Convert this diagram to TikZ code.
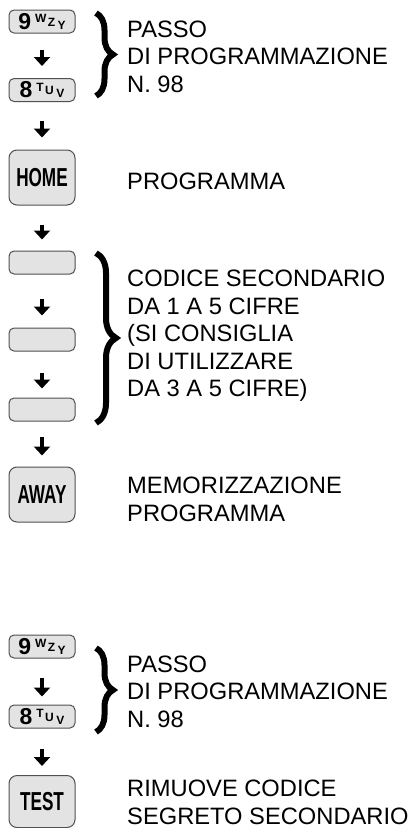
\documentclass[tikz,border=0pt]{standalone}
\usepackage{fontspec}
\setmainfont{Liberation Sans}
\usetikzlibrary{arrows.meta,decorations.pathreplacing}
\definecolor{keyfill}{HTML}{E3E3E3}
\definecolor{keyline}{HTML}{505050}
\newcommand\keylab[4]{{\bfseries\fontsize{23}{23}\selectfont #1}\hspace{4pt}{\bfseries\fontsize{12}{12}\selectfont\raisebox{6.5pt}{#2}\hspace{1.5pt}\raisebox{3pt}{#3}\hspace{2.5pt}\raisebox{0pt}{#4}}}
\newcommand\bigkeytext[1]{\scalebox{0.66}[1]{#1}}
\begin{document}
\begin{tikzpicture}[x=1pt,y=-1pt,
  smallkey/.style={draw=keyline, fill=keyfill, line width=1pt, rounded corners=5pt,
    minimum width=66pt, minimum height=23pt, inner sep=0pt},
  bigkey/.style={draw=keyline, fill=keyfill, line width=1pt, rounded corners=8pt,
    minimum width=66pt, minimum height=55pt, inner sep=0pt,
    font=\bfseries\fontsize{26}{26}\selectfont},
  downarrow/.style={line width=4.5pt, -{Triangle[width=16pt,length=9pt]}},
  bracestyle/.style={decorate, decoration={brace, amplitude=#1}, line width=6pt},
  desc/.style={anchor=north west, inner sep=0pt, align=left,
    font=\fontsize{23.7}{27.5}\selectfont}]
\useasboundingbox (0,0) rectangle (413,828);
\fill[white] (0,0) rectangle (413,828);

% keys
\node[smallkey] (k9a) at (42,21.5) {\keylab{9}{W}{Z}{Y}};
\node[smallkey] (k8a) at (42,90) {\keylab{8}{T}{U}{V}};
\node[bigkey] (home) at (42,177.5) {\bigkeytext{HOME}};
\node[smallkey] (b1) at (42,262.5) {};
\node[smallkey] (b2) at (42,339.5) {};
\node[smallkey] (b3) at (42,409.5) {};
\node[bigkey] (away) at (42,494.5) {\bigkeytext{AWAY}};
\node[smallkey] (k9b) at (42,646.5) {\keylab{9}{W}{Z}{Y}};
\node[smallkey] (k8b) at (42,716.5) {\keylab{8}{T}{U}{V}};
\node[bigkey, minimum height=52pt] (test) at (42,801.5) {\bigkeytext{TEST}};

% arrows
\draw[downarrow, shorten <=16pt, shorten >=12pt] (k9a) -- (k8a);
\draw[downarrow, shorten <=19pt, shorten >=12pt] (k8a) -- (home);
\draw[downarrow, shorten <=19pt, shorten >=11pt] (home) -- (b1);
\draw[downarrow, shorten <=24pt, shorten >=12pt] (b1) -- (b2);
\draw[downarrow, shorten <=21pt, shorten >=9pt] (b2) -- (b3);
\draw[downarrow, shorten <=15pt, shorten >=11pt] (b3) -- (away);
\draw[downarrow, shorten <=19pt, shorten >=8pt] (k9b) -- (k8b);
\draw[downarrow, shorten <=20pt, shorten >=9pt] (k8b) -- (test);

% braces
\coordinate (br1a) at (96,13);
\coordinate (br1b) at (96,96);
\coordinate (br2a) at (96,253);
\coordinate (br2b) at (96,423);
\coordinate (br3a) at (96,648);
\coordinate (br3b) at (96,732);
\draw[bracestyle=17pt] (br1a) -- (br1b);
\draw[bracestyle=20pt] (br2a) -- (br2b);
\draw[bracestyle=17pt] (br3a) -- (br3b);

% texts
\node[desc] (t1) at (127,20.5) {PASSO\\DI PROGRAMMAZIONE\\N. 98};
\node[desc] (t2) at (127,173) {PROGRAMMA};
\node[desc] (t3) at (127,270) {CODICE SECONDARIO\\DA 1 A 5 CIFRE\\(SI CONSIGLIA\\DI UTILIZZARE\\DA 3 A 5 CIFRE)};
\node[desc] (t4) at (127,477) {MEMORIZZAZIONE\\PROGRAMMA};
\node[desc] (t5) at (127,655.5) {PASSO\\DI PROGRAMMAZIONE\\N. 98};
\node[desc] (t6) at (127,780) {RIMUOVE CODICE\\SEGRETO SECONDARIO};
\end{tikzpicture}
\end{document}
